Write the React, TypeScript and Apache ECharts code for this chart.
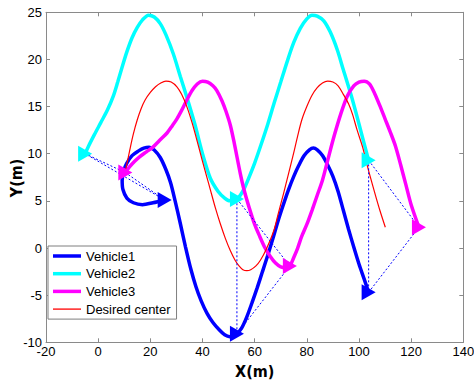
import React, { useEffect, useRef } from "react";
import * as echarts from "echarts";

const xTicks = [-20, 0, 20, 40, 60, 80, 100, 120, 140];
const yTicks = [-10, -5, 0, 5, 10, 15, 20, 25];
const xTitle = "X(m)";
const yTitle = "Y(m)";

const seriesNames = ["Vehicle1", "Vehicle2", "Vehicle3", "Desired center"];
const seriesColors = ["#0000ff", "#00ffff", "#ff00ff", "#ff0000"];

const vehicle1: number[][] = [
  [25.5, 5.1], [21, 4.8], [17, 4.6], [13.5, 4.8], [11, 5.3], [9.5, 6.2], [9.2, 7.2], [9.8, 8.2],
  [11, 9.0], [13, 9.8], [15.5, 10.3], [17.5, 10.6], [19.5, 10.7], [21.5, 10.4], [23.8, 9.6],
  [26, 8.3], [27.8, 6.9], [29.5, 5.0], [31.5, 2.6], [33.5, 0.1], [35.5, -2.2], [37.5, -4.1],
  [39.5, -5.6], [41.7, -6.9], [44, -7.9], [46.5, -8.7], [48.5, -9.2], [50.5, -9.4], [52, -9.35],
  [53.2, -9.1], [55, -8.5], [57, -7.3], [59, -5.8], [61, -4.2], [63, -2.5], [65, -0.8], [67, 1.0], [69, 2.9],
  [71, 4.6], [73, 6.2], [75, 7.6], [77, 8.8], [79, 9.8], [81, 10.4], [82.5, 10.6], [84, 10.4],
  [86, 9.8], [88, 8.8], [90, 7.6], [92, 6.0], [94, 4.0], [96, 2.0], [98, 0.1], [100, -1.7],
  [102, -3.3], [103.7, -4.7],
];

const vehicle2: number[][] = [
  [-5, 10], [-3.7, 10.8], [-1.5, 12.0], [1, 13.3], [3.5, 14.6], [5.8, 16.1], [7.5, 17.6],
  [9.2, 19.2], [11, 20.8], [13, 22.3], [15, 23.4], [17, 24.2], [19.3, 24.7], [21.5, 24.5],
  [23.8, 23.8], [26, 22.6], [28.8, 20.6], [31.5, 18.2], [34, 16.0], [37, 13.2], [40, 10.0],
  [43, 7.4], [46, 6.0], [48.5, 5.3], [50.5, 5.0], [52, 5.0], [53.2, 5.2], [54.5, 5.6], [56, 6.3],
  [58, 7.6], [60, 9.0], [62.5, 11.0], [65, 13.1], [67.5, 15.4], [70, 17.6], [72.5, 19.8], [75, 21.8],
  [77.5, 23.3], [80, 24.3], [82, 24.7], [84, 24.6], [86.5, 24.1], [89, 22.9], [91.7, 21.0], [94, 18.9],
  [97, 16.2], [99, 14.2], [101, 12.1], [103.7, 9.3],
];

const vehicle3: number[][] = [
  [10.4, 8.0], [12, 8.6], [14, 9.2], [16, 9.7], [18.5, 10.2], [21, 10.7], [23.5, 11.4],
  [26.4, 12.2], [28.5, 13.0], [30.2, 13.7], [32, 14.6], [34, 15.7], [36, 16.7], [38, 17.4],
  [40, 17.7], [42, 17.6], [44, 17.2], [45.5, 16.7], [47.5, 15.6], [49, 14.5], [50.7, 13.0],
  [52.2, 11.1], [54.5, 7.9], [56, 6.1], [58, 4.2], [60, 2.5], [62, 1.2], [64, 0], [66, -0.9],
  [68, -1.6], [70, -2.0], [72, -2.1], [73.5, -1.9], [75, -1.0], [76.5, 0.0], [78, 1.2],
  [80, 2.5], [82, 4.0], [84, 5.6], [86, 7.2], [88, 9.3], [90.5, 11.9], [93, 14.2], [95.5, 16.1],
  [98, 17.2], [100, 17.6], [102, 17.7], [104, 17.4], [106, 16.4], [108, 15.1], [110, 13.7],
  [112, 12.3], [114, 10.8], [116, 8.8], [118, 6.7], [120, 4.6], [123, 2.2],
];

const desiredCenter: number[][] = [
  [10.4, 8.2], [11, 8.9], [12.2, 10.5], [13.5, 12.1], [15, 13.6], [16.5, 14.8], [18, 15.7],
  [20, 16.5], [22, 17.1], [24, 17.5], [26, 17.7], [28, 17.6], [30.2, 17.1], [32, 16.3],
  [34, 15.0], [36, 13.3], [37.9, 11.4], [39.8, 9.4], [41.7, 7.5], [43, 6.2], [45, 4.2],
  [46.8, 2.6], [48.8, 1.0], [50.7, -0.3], [52.5, -1.3], [54, -1.9], [55.5, -2.3], [57, -2.4],
  [58.5, -2.3], [60.5, -1.9], [62.2, -1.3], [64.5, -0.1], [67.3, 1.8], [69, 3.6], [71.1, 5.8],
  [73, 7.9], [74.9, 10.0], [76.5, 11.9], [78.1, 13.6], [80, 15.0], [82, 16.2], [84, 17.0],
  [86, 17.5], [88, 17.7], [90, 17.6], [92, 17.2], [94, 16.3], [96, 15.3], [97.5, 14.2],
  [99.3, 12.5], [101.4, 10.7], [103.3, 8.6], [106, 5.9], [108, 4.0], [110.1, 2.2],
];

// snapshot positions (t0, t1, t2)
const snapV1: number[][] = [[25.5, 5.1], [53.2, -9.1], [103.7, -4.7]];
const snapV2: number[][] = [[-5, 10], [53.2, 5.2], [103.7, 9.3]];
const snapV3: number[][] = [[10.4, 8.0], [73.5, -1.9], [123, 2.2]];

export default function App() {
  const ref = useRef<HTMLDivElement>(null);
  useEffect(() => {
    if (!ref.current) return;
    const chart = echarts.init(ref.current, undefined, { renderer: "svg" });
    const font = "'Liberation Sans', Arial, sans-serif";
    const titleFont = "'Liberation Sans Narrow', 'DejaVu Sans Condensed', 'Liberation Sans', sans-serif";
    const axisColor = "#8a8a8a";
    const tri = "path://M0,0L14,8L0,16Z";

    const baseAxis = (ticks: number[]) => ({
      type: "value",
      min: ticks[0],
      max: ticks[ticks.length - 1],
      interval: ticks[1] - ticks[0],
      splitLine: { show: false },
      axisLine: { show: true, onZero: false, lineStyle: { color: axisColor, width: 1 } },
      axisTick: { show: true, inside: true, length: 4, lineStyle: { color: axisColor } },
    });

    const pathSeries = [vehicle1, vehicle2, vehicle3, desiredCenter].map((d, i) => ({
      type: "line",
      name: seriesNames[i],
      data: d,
      symbol: "none",
      showSymbol: false,
      smooth: 0.3,
      lineStyle: { color: seriesColors[i], width: i === 3 ? 1.2 : 3.5 },
      itemStyle: { color: seriesColors[i] },
      z: 3,
      silent: true,
    }));

    const formationSeries = [0, 1, 2].map((k) => ({
      type: "line",
      name: "formation" + k,
      data: [snapV2[k], snapV3[k], snapV1[k], snapV2[k]],
      symbol: "none",
      showSymbol: false,
      lineStyle: { color: "#0000ff", width: 1, type: [2, 2] },
      z: 4,
      silent: true,
    }));

    const markerSeries = [snapV1, snapV2, snapV3].map((d, i) => ({
      type: "scatter",
      name: "marker" + i,
      data: d,
      symbol: tri,
      symbolSize: [14, 16],
      symbolKeepAspect: false,
      itemStyle: { color: seriesColors[i], opacity: 1 },
      z: 5,
      silent: true,
    }));

    const thickIcon = "path://M0,0H28V3.5H0Z";
    const thinIcon = "path://M0,0H28V1.3H0Z";

    chart.setOption({
      animation: false,
      backgroundColor: "#ffffff",
      grid: {
        left: 46,
        right: 10.7,
        top: 12.3,
        bottom: 39.7,
        containLabel: false,
        outerBoundsMode: "none",
      },
      xAxis: [
        {
          ...baseAxis(xTicks),
          position: "bottom",
          axisLabel: { margin: 3, color: "#000", fontSize: 13, fontFamily: font },
          name: xTitle,
          nameLocation: "middle",
          nameGap: 18,
          nameTextStyle: { color: "#000", fontSize: 16, fontWeight: "bold", fontFamily: titleFont },
        },
        { ...baseAxis(xTicks), position: "top", axisLabel: { show: false } },
      ],
      yAxis: [
        {
          ...baseAxis(yTicks),
          position: "left",
          axisLabel: { margin: 4, color: "#000", fontSize: 13, fontFamily: font },
        },
        { ...baseAxis(yTicks), position: "right", axisLabel: { show: false } },
      ],
      graphic: [
        {
          type: "group",
          x: 16,
          y: 178,
          rotation: Math.PI / 2,
          children: [
            {
              type: "text",
              x: 0,
              y: 0,
              style: {
                text: yTitle,
                align: "center",
                verticalAlign: "middle",
                fill: "#000",
                fontSize: 16,
                fontWeight: "bold",
                fontFamily: titleFont,
              },
            },
          ],
        },
      ],
      legend: {
        data: seriesNames.map((n, i) => ({ name: n, icon: i === 3 ? thinIcon : thickIcon })),
        orient: "vertical",
        left: 48,
        top: 246,
        itemWidth: 28,
        itemHeight: 14,
        itemGap: 3.7,
        padding: [3, 6, 3, 5],
        borderColor: "#7f7f7f",
        borderWidth: 1,
        backgroundColor: "#ffffff",
        selectedMode: false,
        itemStyle: { borderWidth: 0 },
        textStyle: { color: "#000", fontSize: 13, fontFamily: font, lineHeight: 14 },
        z: 10,
      },
      series: [...pathSeries, ...formationSeries, ...markerSeries],
    });
    return () => chart.dispose();
  }, []);
  return (
    <div
      ref={ref}
      style={{ position: "fixed", left: 0, top: 0, width: 474, height: 382, background: "#fff" }}
    />
  );
}
